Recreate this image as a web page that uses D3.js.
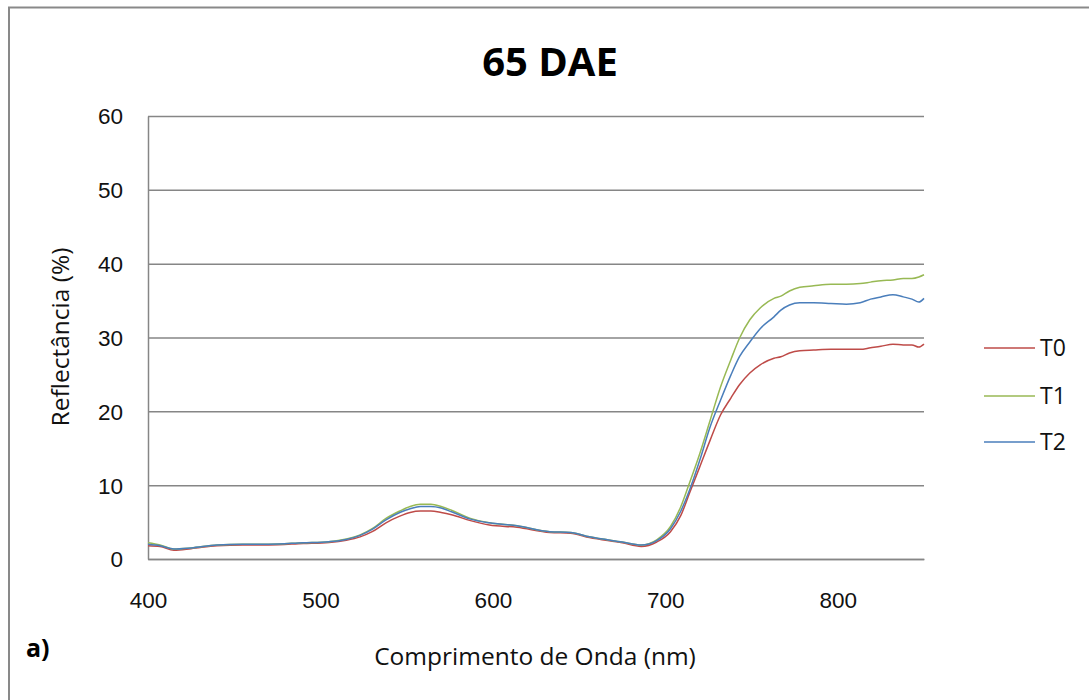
<!DOCTYPE html>
<html>
<head>
<meta charset="utf-8">
<script src="https://cdn.jsdelivr.net/npm/d3@7"></script>
<style>
  body { margin: 0; background: #fff; }
  svg { display: block; font-family: "Open Sans", "Noto Sans", sans-serif; }
</style>
</head>
<body>
<svg id="chart" width="1089" height="700"></svg>
<script>
// wavelengths (nm)
const wavelengths = [400, 407, 415, 425, 440, 455, 470, 490, 505, 515, 523, 530, 538, 546, 552, 558, 564, 570, 576, 587, 598, 614, 633, 645, 656, 675, 686, 695, 703, 709, 714, 720, 726, 732, 738, 743, 749, 755, 763, 767, 772, 778, 786, 796, 805, 813, 819, 825, 832, 838, 843, 847, 850];

// reflectance (%) per treatment
const t0 = [1.8, 1.7, 1.2, 1.4, 1.8, 1.9, 1.9, 2.1, 2.25, 2.55, 3.0, 3.7, 4.9, 5.8, 6.3, 6.5, 6.5, 6.3, 6.0, 5.2, 4.6, 4.3, 3.6, 3.5, 2.9, 2.2, 1.7, 2.3, 3.7, 5.9, 8.9, 12.5, 16.1, 19.5, 21.8, 23.6, 25.2, 26.3, 27.2, 27.4, 27.9, 28.2, 28.3, 28.4, 28.4, 28.4, 28.6, 28.8, 29.1, 29.0, 29.0, 28.7, 29.1];
const t1 = [2.2, 1.9, 1.35, 1.5, 1.9, 2.0, 2.0, 2.2, 2.35, 2.7, 3.25, 4.1, 5.5, 6.5, 7.1, 7.4, 7.4, 7.1, 6.6, 5.5, 4.9, 4.5, 3.7, 3.6, 3.0, 2.3, 1.9, 2.6, 4.4, 7.1, 10.3, 14.3, 18.8, 23.3, 27.0, 29.9, 32.4, 34.0, 35.3, 35.6, 36.3, 36.8, 37.0, 37.2, 37.2, 37.3, 37.5, 37.7, 37.8, 38.0, 38.0, 38.2, 38.5];
const t2 = [2.0, 1.8, 1.35, 1.5, 1.9, 2.0, 2.0, 2.2, 2.35, 2.65, 3.2, 4.0, 5.3, 6.3, 6.8, 7.1, 7.1, 6.9, 6.4, 5.4, 4.9, 4.5, 3.7, 3.6, 3.0, 2.3, 1.9, 2.5, 4.1, 6.5, 9.3, 13.4, 17.9, 21.5, 24.9, 27.4, 29.4, 31.2, 32.8, 33.7, 34.4, 34.7, 34.7, 34.6, 34.5, 34.7, 35.2, 35.5, 35.8, 35.5, 35.2, 34.8, 35.3];

const seriesNames = ["T0", "T1", "T2"];
const seriesColors = ["#BE4B48", "#98B954", "#4A7EBB"];
const xTickValues = [400, 500, 600, 700, 800];
const yTickValues = [0, 10, 20, 30, 40, 50, 60];

const svg = d3.select("#chart");

// outer chart frame
svg.append("rect")
  .attr("x", 9).attr("y", 7.5)
  .attr("width", 1100).attr("height", 720)
  .attr("fill", "none")
  .attr("stroke", "#898989")
  .attr("stroke-width", 2);

const plot = { left: 148, right: 924, top: 116, bottom: 559 };

const x = d3.scaleLinear().domain([400, 850]).range([plot.left, plot.right]);
const y = d3.scaleLinear().domain([0, 60]).range([plot.bottom, plot.top]);

// horizontal gridlines via the y axis
const yAxis = d3.axisLeft(y)
  .tickValues(yTickValues)
  .tickSizeInner(-(plot.right - plot.left))
  .tickSizeOuter(0)
  .tickPadding(25);

const gy = svg.append("g")
  .attr("class", "axis axis-y")
  .attr("transform", "translate(" + plot.left + ",0)")
  .call(yAxis);
gy.select(".domain").attr("stroke", "#868686").attr("stroke-width", 1.5);
gy.selectAll(".tick line").attr("stroke", "#868686").attr("stroke-width", 1.5);
gy.selectAll(".tick text")
  .attr("font-size", 22.5)
  .attr("fill", "#111")
  .attr("dy", "0.35em");

const xAxis = d3.axisBottom(x)
  .tickValues(xTickValues)
  .tickSize(0)
  .tickPadding(33);

const gx = svg.append("g")
  .attr("class", "axis axis-x")
  .attr("transform", "translate(0," + plot.bottom + ")")
  .call(xAxis);
gx.select(".domain").attr("stroke", "#868686").attr("stroke-width", 1.5);
gx.selectAll(".tick text")
  .attr("font-size", 22.5)
  .attr("fill", "#111");

// curves
const line = d3.line()
  .x(function(d, i) { return x(wavelengths[i]); })
  .y(function(d) { return y(d); })
  .curve(d3.curveMonotoneX);

[t0, t1, t2].forEach(function(vals, k) {
  svg.append("path")
    .datum(vals)
    .attr("fill", "none")
    .attr("stroke", seriesColors[k])
    .attr("stroke-width", 1.5)
    .attr("d", line);
});

// legend
const legendY = [348, 396, 442];
seriesNames.forEach(function(name, k) {
  svg.append("line")
    .attr("x1", 984).attr("x2", 1035)
    .attr("y1", legendY[k]).attr("y2", legendY[k])
    .attr("stroke", seriesColors[k])
    .attr("stroke-width", 1.5);
  svg.append("text")
    .attr("x", 1040).attr("y", legendY[k])
    .attr("dy", "0.35em")
    .attr("font-size", 23)
    .attr("fill", "#111")
    .text(name);
});

// titles
svg.append("text")
  .attr("x", 550).attr("y", 76)
  .attr("text-anchor", "middle")
  .attr("font-size", 40)
  .attr("font-weight", "bold")
  .attr("fill", "#000")
  .text("65 DAE");

svg.append("text")
  .attr("transform", "translate(69,337) rotate(-90)")
  .attr("text-anchor", "middle")
  .attr("font-size", 24.5)
  .attr("fill", "#111")
  .text("Reflectância (%)");

svg.append("text")
  .attr("x", 535).attr("y", 665)
  .attr("text-anchor", "middle")
  .attr("font-size", 24.5)
  .attr("fill", "#111")
  .text("Comprimento de Onda (nm)");

svg.append("text")
  .attr("x", 26).attr("y", 657)
  .attr("font-size", 25)
  .attr("font-weight", "bold")
  .attr("fill", "#000")
  .text("a)");
</script>
</body>
</html>
